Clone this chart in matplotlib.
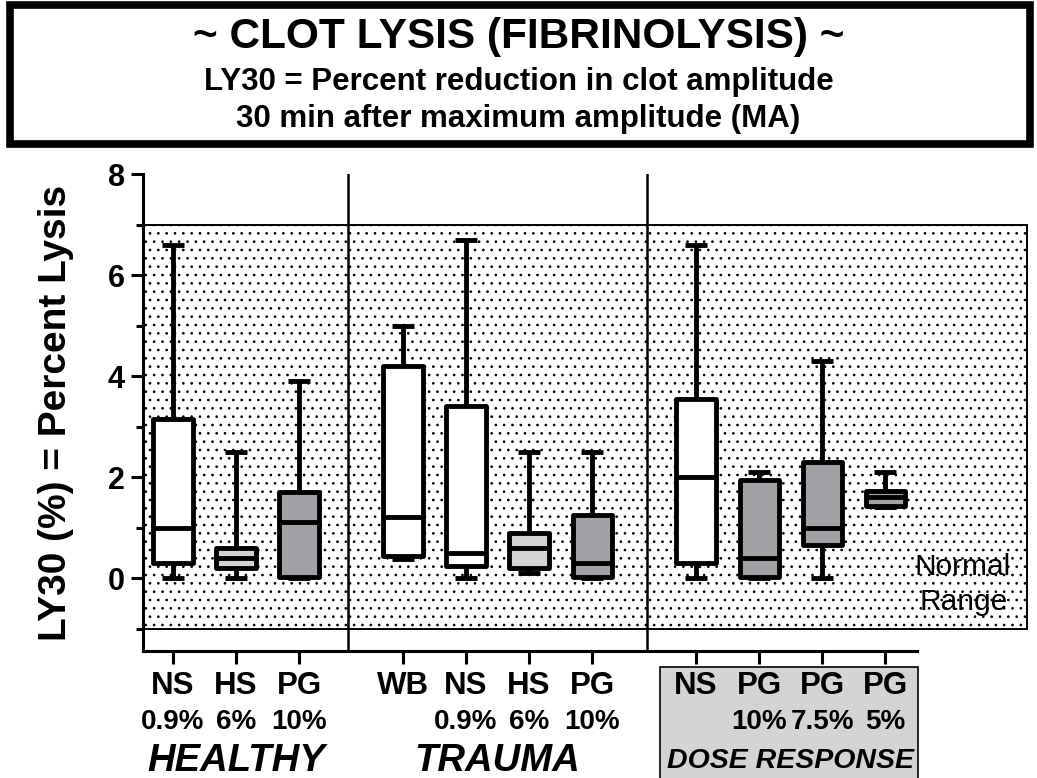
"""
LY30 clot lysis box plots: healthy, trauma and dose response groups.
"""

import matplotlib.pyplot as plt
import numpy as np
from matplotlib.patches import Rectangle
from matplotlib.transforms import blended_transform_factory

plt.rcParams["font.family"] = ["Liberation Sans", "DejaVu Sans"]
plt.rcParams["hatch.linewidth"] = 0.7

# data
fluids = ["NS", "HS", "PG", "WB", "NS", "HS", "PG", "NS", "PG", "PG", "PG"]
doses = ["0.9%", "6%", "10%", "", "0.9%", "6%", "10%", "", "10%", "7.5%", "5%"]
groups = ["HEALTHY", "TRAUMA", "DOSE RESPONSE"]
group_sizes = [3, 4, 4]
whis_lo = [0.0, 0.0, 0.0, 0.38, 0.0, 0.1, 0.0, 0.0, 0.0, 0.0, 1.4]
q1 = [0.3, 0.2, 0.02, 0.44, 0.24, 0.2, 0.02, 0.3, 0.02, 0.65, 1.42]
median = [1.0, 0.4, 1.1, 1.2, 0.5, 0.6, 0.3, 2.0, 0.4, 1.0, 1.6]
q3 = [3.15, 0.6, 1.7, 4.2, 3.4, 0.9, 1.25, 3.55, 1.95, 2.3, 1.72]
whis_hi = [6.6, 2.5, 3.9, 5.0, 6.7, 2.5, 2.5, 6.6, 2.1, 4.3, 2.1]
fills = ["white", "#d3d3d3", "#a2a2a6", "white", "white", "#d3d3d3", "#a2a2a6",
         "white", "#a2a2a6", "#a2a2a6", "#a2a2a6"]
normal_range = (-1.0, 7.0)

# x positions: unit spacing inside a group, wider gap between groups
gap = 1.65
positions = []
start = 0.0
group_centers = []
for n in group_sizes:
    pos = start + np.arange(n)
    positions.extend(pos)
    group_centers.append(pos.mean())
    start = pos[-1] + gap
positions = np.array(positions)

fig = plt.figure(figsize=(10.37, 7.78), dpi=100)
ax = fig.add_axes([143 / 1037, 1 - 651 / 778, (1030 - 143) / 1037, (651 - 174) / 778])

xmin, xmax = -0.476, 13.6
ax.set_xlim(xmin, xmax)
ax.set_ylim(-1.445, 8.0)

# normal range band
band = Rectangle((xmin, normal_range[0]), 13.56 - xmin, normal_range[1] - normal_range[0],
                 facecolor="white", edgecolor="black", hatch="..", linewidth=1.4,
                 zorder=0.5)
ax.add_patch(band)

# group separators
sep1 = (positions[2] + positions[3]) / 2 - 0.04
sep2 = (positions[6] + positions[7]) / 2 + 0.04
for s in (sep1, sep2):
    ax.axvline(s, color="black", linewidth=1.8, zorder=1)

stats = [dict(whislo=a, q1=b, med=c, q3=d, whishi=e)
         for a, b, c, d, e in zip(whis_lo, q1, median, q3, whis_hi)]
lw = 3.5
bp = ax.bxp(stats, positions=positions, widths=0.62, capwidths=0.34,
            showfliers=False, patch_artist=True,
            boxprops=dict(linewidth=lw, edgecolor="black"),
            whiskerprops=dict(linewidth=lw, color="black"),
            capprops=dict(linewidth=lw, color="black"),
            medianprops=dict(linewidth=lw, color="black"))
for box, fc in zip(bp["boxes"], fills):
    box.set_facecolor(fc)
    box.set_joinstyle("round")
    box.set_zorder(3)
for key in ("whiskers", "caps", "medians"):
    for ln in bp[key]:
        ln.set_zorder(3)
        ln.set_solid_capstyle("butt")

# axes styling
for side in ("top", "right"):
    ax.spines[side].set_visible(False)
ax.spines["left"].set_linewidth(2.2)
ax.spines["bottom"].set_linewidth(2.2)
ax.spines["bottom"].set_bounds(xmin, 11.8)

ax.set_yticks([0, 2, 4, 6, 8])
ax.set_yticks([-1, 1, 3, 5, 7], minor=True)
ax.tick_params(axis="y", which="major", length=9, width=2.2, labelsize=22, pad=4)
ax.tick_params(axis="y", which="minor", length=5, width=2.2)
for lab in ax.get_yticklabels():
    lab.set_fontweight("bold")
ax.set_xticks(positions)
ax.set_xticklabels([])
ax.tick_params(axis="x", length=9, width=2.2)

ax.set_ylabel("LY30 (%) = Percent Lysis", fontsize=28, fontweight="bold", labelpad=24)

# category labels below the axis
trans = blended_transform_factory(ax.transData, fig.transFigure)
for x, f, d in zip(positions, fluids, doses):
    ax.text(x, 1 - 686 / 778, f, transform=trans, ha="center", va="center",
            fontsize=22.5, fontweight="bold")
    ax.text(x, 1 - 722 / 778, d, transform=trans, ha="center", va="center",
            fontsize=20, fontweight="bold")
for c, g in zip(group_centers, groups):
    size = 20.5 if g == "DOSE RESPONSE" else 27.5
    ax.text(c, 1 - 761 / 778, g, transform=trans, ha="center", va="center",
            fontsize=size, fontweight="bold", style="italic", zorder=5)

# grey panel behind dose response labels
fig.patches.append(Rectangle((660 / 1037, -0.01), (918 - 660) / 1037, (778 - 667) / 778 + 0.01,
                             transform=fig.transFigure, facecolor="#d4d4d4",
                             edgecolor="black", linewidth=1.2, zorder=-1))

ax.text(13.3, 0.22, "Normal", ha="right", va="center", fontsize=21.5, zorder=4)
ax.text(13.25, -0.47, "Range", ha="right", va="center", fontsize=21.5, zorder=4)

# title box
fig.patches.append(Rectangle((10 / 1037, 1 - 144 / 778), 1020 / 1037, 139 / 778,
                             transform=fig.transFigure, facecolor="white",
                             edgecolor="black", linewidth=5.5))
fig.text(0.5, 1 - 37 / 778, "~ CLOT LYSIS (FIBRINOLYSIS) ~", ha="center", va="center",
         fontsize=30.5, fontweight="bold")
fig.text(0.5, 1 - 82 / 778, "LY30 = Percent reduction in clot amplitude", ha="center",
         va="center", fontsize=22.5, fontweight="bold")
fig.text(0.5, 1 - 119 / 778, "30 min after maximum amplitude (MA)", ha="center",
         va="center", fontsize=22.5, fontweight="bold")

fig.savefig("out.png", dpi=100)
